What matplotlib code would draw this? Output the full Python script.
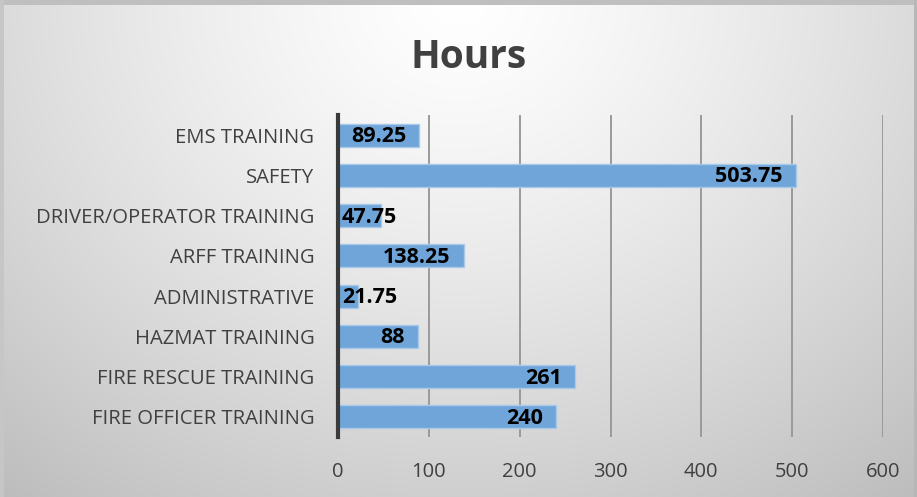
import numpy as np
import matplotlib
matplotlib.use("Agg")
import matplotlib.pyplot as plt

categories = ["FIRE OFFICER TRAINING", "FIRE RESCUE TRAINING", "HAZMAT TRAINING",
              "ADMINISTRATIVE", "ARFF TRAINING", "DRIVER/OPERATOR TRAINING",
              "SAFETY", "EMS TRAINING"]
hours = [240, 261, 88, 21.75, 138.25, 47.75, 503.75, 89.25]
labels = ["240", "261", "88", "21.75", "138.25", "47.75", "503.75", "89.25"]
xticks = [0, 100, 200, 300, 400, 500, 600]

W, H = 917, 497
fig = plt.figure(figsize=(W / 100, H / 100), dpi=100)

# background radial gradient
bg = fig.add_axes([0, 0, 1, 1])
yy, xx = np.mgrid[0:H, 0:W]
cx, cy = W * 0.5, H * 0.0
d = np.sqrt(((xx - cx) / (W * 0.75)) ** 2 + ((yy - cy) / (H * 1.2)) ** 2)
v = 1.0 - 0.24 * np.clip(d, 0, 1.3) ** 1.3
img = np.dstack([v, v, v])
# grey frame
img[:5, :, :] = 0.75
img[:, :4, :] = 0.78
img[:, -3:, :] = 0.72
bg.imshow(img, aspect="auto", interpolation="bilinear")
bg.axis("off")

font = "Open Sans"
ax = fig.add_axes([338 / W, 1 - 437 / H, (883 - 338) / W, (437 - 115) / H])
ax.patch.set_alpha(0)
y = np.arange(len(categories))
bars = ax.barh(y, hours, height=0.57, color="#6fa5d8", edgecolor="#a9c9ea",
               linewidth=1.0, zorder=3)
ax.set_xlim(0, 600)
ax.set_ylim(-0.5, len(categories) - 0.5)
ax.set_xticks(xticks)
ax.set_xticklabels([str(t) for t in xticks], fontname=font, fontsize=14.5, color="#404040")
ax.set_yticks(y)
ax.set_yticklabels(categories, fontname=font, fontsize=14.6, color="#404040")
ax.tick_params(axis="both", length=0)
ax.tick_params(axis="y", pad=17)
ax.tick_params(axis="x", pad=18)
ax.grid(axis="x", color="#9a9a9a", linewidth=1.4, zorder=1)
ax.set_axisbelow(True)
for s in ["top", "right", "bottom"]:
    ax.spines[s].set_visible(False)
ax.spines["left"].set_color("#3a3a3a")
ax.spines["left"].set_linewidth(3)
ax.spines["left"].set_zorder(5)

fig.canvas.draw()
r = fig.canvas.get_renderer()
px_per_unit = ax.transData.transform((1, 0))[0] - ax.transData.transform((0, 0))[0]
for yi, val, lab in zip(y, hours, labels):
    t = ax.text(val, yi - 0.04, lab, ha="right", va="center", fontname=font,
                fontweight="bold", fontsize=15.5, color="black", zorder=6)
    t.set_x(val - 13 / px_per_unit)
    bb = t.get_window_extent(r)
    if bb.width + 16 > val * px_per_unit:
        t.set_ha("left")
        t.set_x(4 / px_per_unit)

fig.text(469 / W, 1 - 57 / H, "Hours", ha="center", va="center", fontname=font,
         fontweight="bold", fontsize=28, color="#404040")

fig.savefig("out.png", dpi=100)
